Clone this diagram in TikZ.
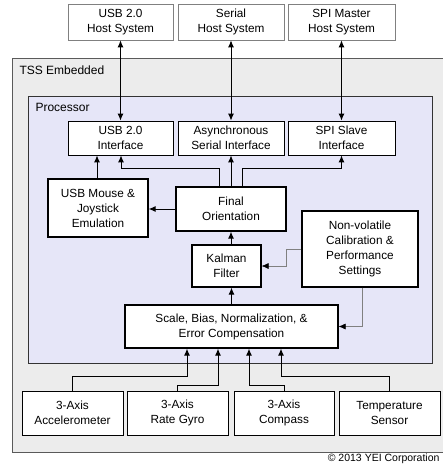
\documentclass[tikz,border=0pt]{standalone}
\usepackage{fontspec}
\setmainfont{Liberation Sans}
\usetikzlibrary{arrows.meta}

\definecolor{outergray}{HTML}{ECECEC}
\definecolor{procblue}{HTML}{E6E6F8}
\definecolor{linegray}{HTML}{808080}

\tikzset{
  blk/.style={draw=black,line width=1.2pt,fill=white,align=center,inner sep=1pt,
    font=\fontsize{11.8}{15}\selectfont},
  hostblk/.style={draw=linegray,line width=0.6pt,fill=white,align=center,inner sep=1pt,
    font=\fontsize{11.8}{15}\selectfont},
  arr/.style={line width=1pt,-{Latex[length=7pt,width=6pt]}},
  dblarr/.style={line width=1pt,{Latex[length=7pt,width=6pt]}-{Latex[length=7pt,width=6pt]}},
  thinarr/.style={draw=linegray,line width=0.6pt,-{Latex[length=7pt,width=6pt,color=black]}}
}

\begin{document}
\begin{tikzpicture}[x=1pt,y=-1pt]
  \useasboundingbox (0,0) rectangle (443,466);

  %外枠
  \fill[outergray] (12,58) rectangle (443,452);
  \draw[linegray!70!black,line width=0.8pt] (443,58)--(12,58)--(12,452)--(443,452);
  \node[anchor=west,font=\fontsize{12}{14}\selectfont] (tss) at (16,70) {TSS Embedded};

  %プロセッサ
  \draw[fill=procblue,draw=black!80,line width=1pt] (28,96) rectangle (432,363);
  \node[anchor=west,font=\fontsize{12}{14}\selectfont] (proc) at (32,107) {Processor};

  %ホスト
  \node[hostblk,minimum width=105pt,minimum height=36pt] (usbhost) at (120.5,22) {USB 2.0\\Host System};
  \node[hostblk,minimum width=106pt,minimum height=36pt] (serhost) at (231,22) {Serial\\Host System};
  \node[hostblk,minimum width=107pt,minimum height=36pt] (spihost) at (341.5,22) {SPI Master\\Host System};

  %インタフェース
  \node[blk,line width=0.8pt,minimum width=105pt,minimum height=34pt] (usbif) at (120.5,138) {USB 2.0\\Interface};
  \node[blk,line width=0.8pt,minimum width=106pt,minimum height=34pt] (serif) at (231,138) {Asynchronous\\Serial Interface};
  \node[blk,line width=0.8pt,minimum width=107pt,minimum height=34pt] (spiif) at (341.5,138) {SPI Slave\\Interface};

  %処理ブロック
  \node[blk,minimum width=100pt,minimum height=58pt] (mouse) at (98,208) {USB Mouse \&\\Joystick\\Emulation};
  \node[blk,minimum width=110pt,minimum height=44pt] (final) at (231,209) {Final\\Orientation};
  \node[blk,minimum width=116pt,minimum height=76pt] (nonvol) at (360,249) {Non-volatile\\Calibration \&\\Performance\\Settings};
  \node[blk,minimum width=69pt,minimum height=42pt] (kalman) at (226.5,266) {Kalman\\Filter};
  \node[blk,minimum width=213pt,minimum height=43pt] (scale) at (231.5,326.5) {Scale, Bias, Normalization, \&\\Error Compensation};

  %センサ
  \node[blk,line width=0.8pt,minimum width=101pt,minimum height=44pt] (accel) at (72.5,413) {3-Axis\\Accelerometer};
  \node[blk,line width=0.8pt,minimum width=101pt,minimum height=44pt] (gyro) at (177.5,413) {3-Axis\\Rate Gyro};
  \node[blk,line width=0.8pt,minimum width=100pt,minimum height=44pt] (compass) at (284,413) {3-Axis\\Compass};
  \node[blk,line width=0.8pt,minimum width=101pt,minimum height=44pt] (temp) at (389.5,413) {Temperature\\Sensor};

  %ホスト-インタフェース
  \draw[dblarr] (usbhost) -- (usbif);
  \draw[dblarr] (serhost) -- (serif);
  \draw[dblarr] (spihost) -- (spiif);

  %出力
  \coordinate (fu) at (219,168);
  \coordinate (fs) at (242,168);
  \draw[arr] (final.north -| fu) -- (fu) -| ([xshift=0.5pt]usbif.south);
  \draw[arr] (final) -- (serif);
  \draw[arr] (final.north -| fs) -- (fs) -| (spiif.south);
  \draw[arr] (mouse.north -| 97,0) -- (usbif.south -| 97,0);
  \draw[arr] (final.west) -- (mouse.east |- final.west);
  \draw[arr] (final.south |- kalman.north) -- (final.south);
  \draw[arr] (scale.north) -- (scale.north |- kalman.south);

  %キャリブレーション
  \draw[thinarr] (nonvol.west) -- ++(-15,0) |- (kalman.east);
  \draw[thinarr] ([xshift=2pt]nonvol.south) |- (scale.east);

  %センサ入力
  \coordinate (sa) at (187,376);
  \coordinate (sg) at (218,385);
  \coordinate (sc) at (249,385);
  \coordinate (st) at (281,376);
  \draw[arr] (accel.north) |- (sa) -- (sa |- scale.south);
  \draw[arr] (gyro.north) |- (sg) -- (sg |- scale.south);
  \draw[arr] (compass.north) |- (sc) -- (sc |- scale.south);
  \draw[arr] (temp.north) |- (st) -- (st |- scale.south);

  %著作権
  \node[anchor=east,font=\fontsize{10.5}{12}\selectfont] (copy) at (443,459) {© 2013 YEI Corporation};
\end{tikzpicture}
\end{document}
